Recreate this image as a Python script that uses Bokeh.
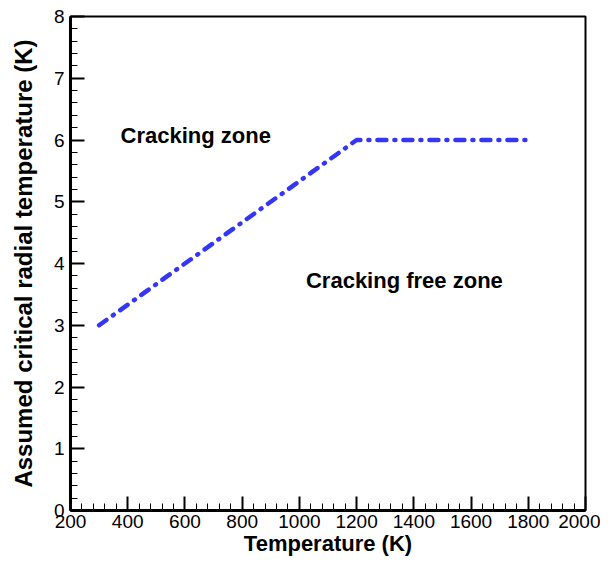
from bokeh.plotting import figure
from bokeh.models import Range1d, FixedTicker, Label
from bokeh.embed import file_html
from bokeh.resources import INLINE

temperature = [300, 1200, 1800]
critical_radial_temp = [3, 6, 6]
x_ticks = [200, 400, 600, 800, 1000, 1200, 1400, 1600, 1800, 2000]
y_ticks = [0, 1, 2, 3, 4, 5, 6, 7, 8]

p = figure(width=600, height=558, output_backend="svg", toolbar_location=None,
           x_range=Range1d(200, 2000), y_range=Range1d(0, 8),
           min_border_left=70, min_border_right=15, min_border_top=16, min_border_bottom=43)
p.grid.visible = False
p.outline_line_color = "black"
p.outline_line_width = 2

p.line(temperature, critical_radial_temp, line_color="#3535f5", line_width=4.5,
       line_dash="9 8 1 8", line_cap="round")

for ax in (p.xaxis[0], p.yaxis[0]):
    ax.axis_line_width = 3
    ax.major_tick_in = 14
    ax.major_tick_out = 0
    ax.minor_tick_in = 7
    ax.minor_tick_out = 0
    ax.major_tick_line_width = 2
    ax.minor_tick_line_width = 1
    ax.major_label_text_font = "Liberation Sans"
    ax.major_label_text_font_size = "19px"
    ax.major_label_text_color = "black"
    ax.axis_label_text_font = "Liberation Sans"
    ax.axis_label_text_font_style = "bold"
    ax.axis_label_text_font_size = "22px"
    ax.axis_label_text_color = "black"

p.yaxis[0].axis_label_text_font_size = "24px"
p.xaxis[0].ticker = FixedTicker(ticks=x_ticks, minor_ticks=[200 + 40 * i for i in range(46)])
p.yaxis[0].ticker = FixedTicker(ticks=y_ticks, minor_ticks=[0.2 * i for i in range(41)])
p.xaxis[0].axis_label = "Temperature (K)"
p.yaxis[0].axis_label = "Assumed critical radial temperature (K)"
p.xaxis[0].major_label_standoff = 4
p.yaxis[0].major_label_standoff = 6
p.xaxis[0].axis_label_standoff = 0
p.yaxis[0].axis_label_standoff = 14

p.add_layout(Label(x=375, y=6.07, text="Cracking zone", text_font="Liberation Sans",
                   text_font_style="bold", text_font_size="22px", text_align="left",
                   text_baseline="middle", text_color="black"))
p.add_layout(Label(x=1023, y=3.72, text="Cracking free zone", text_font="Liberation Sans",
                   text_font_style="bold", text_font_size="22px", text_align="left",
                   text_baseline="middle", text_color="black"))

open("out.html", "w").write(file_html(p, INLINE))
